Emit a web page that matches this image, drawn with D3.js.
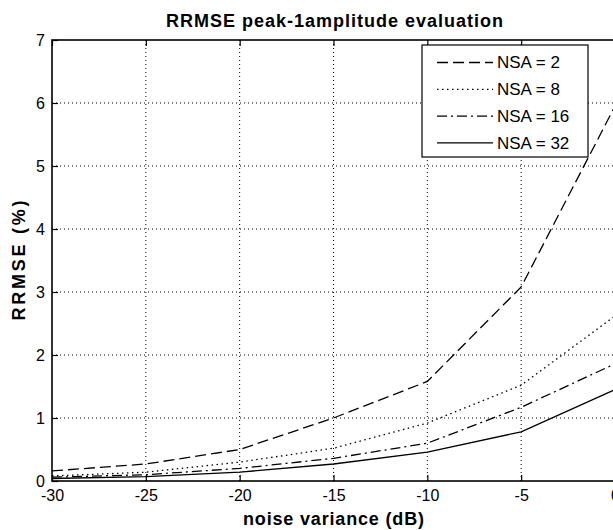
<!DOCTYPE html>
<meta charset="utf-8">
<style>
  body { margin: 0; background: #fff; }
  text { font-family: "Liberation Sans", Arial, sans-serif; fill: #000; }
</style>
<div id="chart"></div>
<script src="https://cdn.jsdelivr.net/npm/d3@7"></script>
<script>

// data
var noiseDb = [-30, -25, -20, -15, -10, -5, 0]
var nsa2  = [0.16, 0.27, 0.50, 1.00, 1.58, 3.08, 5.95]
var nsa8  = [0.08, 0.14, 0.30, 0.52, 0.92, 1.52, 2.62]
var nsa16 = [0.06, 0.10, 0.20, 0.36, 0.60, 1.17, 1.86]
var nsa32 = [0.04, 0.07, 0.14, 0.27, 0.46, 0.78, 1.45]
var seriesNames = ["NSA = 2", "NSA = 8", "NSA = 16", "NSA = 32"]
var xTicks = [-30, -25, -20, -15, -10, -5, 0]
var yTicks = [0, 1, 2, 3, 4, 5, 6, 7]

var width = 613,
    height = 530,
    margin = {top: 40, right: -2, bottom: 49, left: 52}
var innerW = width - margin.left - margin.right,
    innerH = height - margin.top - margin.bottom

var svg = d3.select("#chart")
  .append("svg")
    .attr("width", width)
    .attr("height", height)

var g = svg.append("g")
    .attr("transform", "translate(" + margin.left + "," + margin.top + ")")

var x = d3.scaleLinear().domain([-30, 0]).range([0, innerW])
var y = d3.scaleLinear().domain([0, 7]).range([innerH, 0])

// dotted grid
g.append("g").selectAll("line.vx")
  .data(xTicks.slice(1, -1))
  .enter().append("line")
    .attr("x1", d => x(d)).attr("x2", d => x(d))
    .attr("y1", 0).attr("y2", innerH)
    .attr("stroke", "#000").attr("stroke-width", 1)
    .attr("stroke-dasharray", "1,3")
g.append("g").selectAll("line.hy")
  .data(yTicks.slice(1, -1))
  .enter().append("line")
    .attr("x1", 0).attr("x2", innerW)
    .attr("y1", d => y(d)).attr("y2", d => y(d))
    .attr("stroke", "#000").attr("stroke-width", 1)
    .attr("stroke-dasharray", "1,3")

// series lines
var series = [
  {name: seriesNames[0], values: nsa2,  dash: "11,5"},
  {name: seriesNames[1], values: nsa8,  dash: "1.5,3.5"},
  {name: seriesNames[2], values: nsa16, dash: "10,4,2,4"},
  {name: seriesNames[3], values: nsa32, dash: null}
]

var line = d3.line()
  .x((d, i) => x(noiseDb[i]))
  .y(d => y(d))

g.selectAll("path.series")
  .data(series)
  .enter().append("path")
    .attr("class", "series")
    .attr("d", d => line(d.values))
    .attr("fill", "none")
    .attr("stroke", "#000")
    .attr("stroke-width", 1.3)
    .attr("stroke-dasharray", d => d.dash)

// axes, ticks pointing inward; plain hyphen for negatives like the original
var plain = d => String(d)
var xAxis = g.append("g")
  .attr("transform", "translate(0," + innerH + ")")
  .call(d3.axisBottom(x).tickValues(xTicks).tickFormat(plain)
    .tickSizeInner(-6).tickSizeOuter(0).tickPadding(9))
var xTop = g.append("g")
  .call(d3.axisTop(x).tickValues(xTicks).tickFormat("")
    .tickSizeInner(-6).tickSizeOuter(0))
var yAxis = g.append("g")
  .call(d3.axisLeft(y).tickValues(yTicks).tickFormat(plain)
    .tickSizeInner(-6).tickSizeOuter(0).tickPadding(7))

;[xAxis, xTop, yAxis].forEach(function(a) {
  a.select(".domain").remove()
  a.selectAll("line").attr("stroke", "#000").attr("stroke-width", 1.2)
  a.selectAll("text")
    .style("font-family", "'Liberation Sans', Arial, sans-serif")
    .style("font-size", "16px")
    .attr("fill", "#000")
})

// axes box
g.append("rect")
  .attr("x", 0).attr("y", 0)
  .attr("width", innerW).attr("height", innerH)
  .attr("fill", "none")
  .attr("stroke", "#000")
  .attr("stroke-width", 1.6)

// legend
var legend = g.append("g")
  .attr("transform", "translate(" + (422 - margin.left) + "," + (45 - margin.top) + ")")
legend.append("rect")
  .attr("width", 166).attr("height", 112)
  .attr("fill", "#fff").attr("stroke", "#000").attr("stroke-width", 1.2)
var items = legend.selectAll("g.item")
  .data(series)
  .enter().append("g")
    .attr("transform", (d, i) => "translate(0," + (17.5 + i * 26.8) + ")")
items.append("line")
  .attr("x1", 15).attr("x2", 71)
  .attr("stroke", "#000").attr("stroke-width", 1.3)
  .attr("stroke-dasharray", d => d.dash)
items.append("text")
  .attr("x", 75)
  .attr("dy", "0.35em")
  .style("font-size", "17px")
  .text(d => d.name)

// title and axis labels
svg.append("text")
  .attr("x", margin.left + innerW / 2 + 1)
  .attr("y", 27)
  .attr("text-anchor", "middle")
  .style("font-size", "18px")
  .style("font-weight", "bold")
  .attr("textLength", 337)
  .attr("lengthAdjust", "spacing")
  .text("RRMSE peak-1amplitude evaluation")

svg.append("text")
  .attr("x", margin.left + innerW / 2)
  .attr("y", 525)
  .attr("text-anchor", "middle")
  .style("font-size", "18px")
  .style("font-weight", "bold")
  .attr("textLength", 181)
  .attr("lengthAdjust", "spacing")
  .text("noise variance (dB)")

svg.append("text")
  .attr("transform", "translate(25," + (margin.top + innerH / 2) + ") rotate(-90)")
  .attr("text-anchor", "middle")
  .style("font-size", "18px")
  .style("font-weight", "bold")
  .attr("textLength", 120)
  .attr("lengthAdjust", "spacing")
  .text("RRMSE (%)")

</script>
